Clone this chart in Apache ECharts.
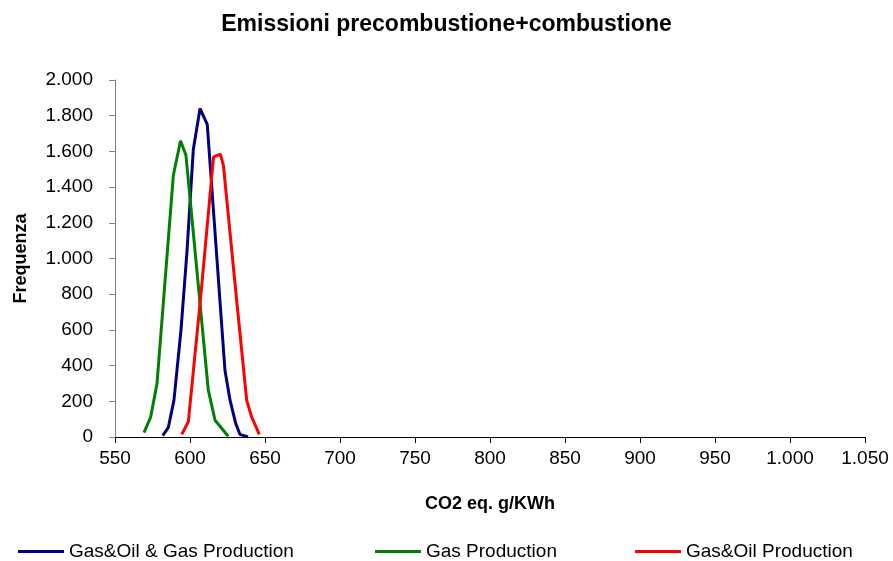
<!DOCTYPE html>
<html>
<head>
<meta charset="utf-8">
<script src="https://cdn.jsdelivr.net/npm/echarts@6/dist/echarts.min.js"></script>
<style>
  html, body { margin: 0; padding: 0; background: #ffffff; }
  #chart { width: 893px; height: 561px; }
</style>
</head>
<body>
<div id="chart"></div>
<script>
// Frequency distributions of CO2 eq. emissions (g/KWh)
const seriesNames = ['Gas&Oil & Gas Production', 'Gas Production', 'Gas&Oil Production'];

const gasOilGasX = [581.8, 585.5, 589.3, 594.0, 598.0, 602.2, 606.7, 611.5, 623.3, 626.7, 630.5, 633.3, 638.7];
const gasOilGasY = [8, 52, 205, 600, 1040, 1610, 1840, 1751, 374, 206, 75, 15, 0];

const gasX = [569.3, 573.8, 578.0, 582.3, 588.9, 593.7, 597.3, 612.2, 616.7, 625.5];
const gasY = [25, 112, 299, 760, 1466, 1660, 1578, 262, 94, 4];

const gasOilX = [594.5, 598.9, 607.3, 615.7, 620.3, 622.3, 631.1, 637.8, 641.1, 646.2];
const gasOilY = [15, 86, 800, 1569, 1584, 1520, 766, 206, 112, 15];

const xTicks = { min: 550, max: 1050, step: 50 };
const yTicks = { min: 0, max: 2000, step: 200 };

const colors = ['#000080', '#008000', '#FF0000'];
const font = 'Arial, "Liberation Sans", sans-serif';

function pairs(xs, ys) {
  return xs.map((x, i) => [x, ys[i]]);
}
function thousands(v) {
  return String(v).replace(/\B(?=(\d{3})+(?!\d))/g, '.');
}

const chart = echarts.init(document.getElementById('chart'), null, { renderer: 'canvas' });

const legendLefts = [13, 370, 630];

chart.setOption({
  backgroundColor: '#ffffff',
  animation: false,
  title: {
    text: 'Emissioni precombustione+combustione',
    left: 'center',
    top: 8,
    textStyle: { fontFamily: font, fontSize: 23, fontWeight: 'bold', color: '#000' }
  },
  legend: seriesNames.map((name, i) => ({
    data: [name],
    left: legendLefts[i],
    top: 537,
    icon: 'rect',
    itemWidth: 46,
    itemHeight: 3,
    itemGap: 0,
    textStyle: { fontFamily: font, fontSize: 19, color: '#000' }
  })),
  grid: { left: 115, right: 28, top: 80, bottom: 124, containLabel: false },
  xAxis: {
    type: 'value',
    min: xTicks.min,
    max: xTicks.max,
    interval: xTicks.step,
    name: 'CO2 eq. g/KWh',
    nameLocation: 'middle',
    nameGap: 58,
    nameTextStyle: { fontFamily: font, fontSize: 18, fontWeight: 'bold', color: '#000' },
    axisLine: { show: true, lineStyle: { color: '#000', width: 1 } },
    axisTick: { show: true, inside: false, length: 6, lineStyle: { color: '#000' } },
    axisLabel: { fontFamily: font, fontSize: 19, color: '#000', margin: 12, formatter: thousands },
    splitLine: { show: false }
  },
  yAxis: {
    type: 'value',
    min: yTicks.min,
    max: yTicks.max,
    interval: yTicks.step,
    name: 'Frequenza',
    nameLocation: 'middle',
    nameGap: 85,
    nameRotate: 90,
    nameTextStyle: { fontFamily: font, fontSize: 18, fontWeight: 'bold', color: '#000' },
    axisLine: { show: true, lineStyle: { color: '#808080', width: 1 } },
    axisTick: { show: true, inside: false, length: 6, lineStyle: { color: '#808080' } },
    axisLabel: { fontFamily: font, fontSize: 19, color: '#000', margin: 22, formatter: thousands },
    splitLine: { show: false }
  },
  series: [
    { name: seriesNames[0], type: 'line', data: pairs(gasOilGasX, gasOilGasY) },
    { name: seriesNames[1], type: 'line', data: pairs(gasX, gasY) },
    { name: seriesNames[2], type: 'line', data: pairs(gasOilX, gasOilY) }
  ].map((s, i) => Object.assign(s, {
    showSymbol: false,
    symbol: 'none',
    color: colors[i],
    lineStyle: { color: colors[i], width: 3 },
    emphasis: { disabled: true }
  }))
});
</script>
</body>
</html>
